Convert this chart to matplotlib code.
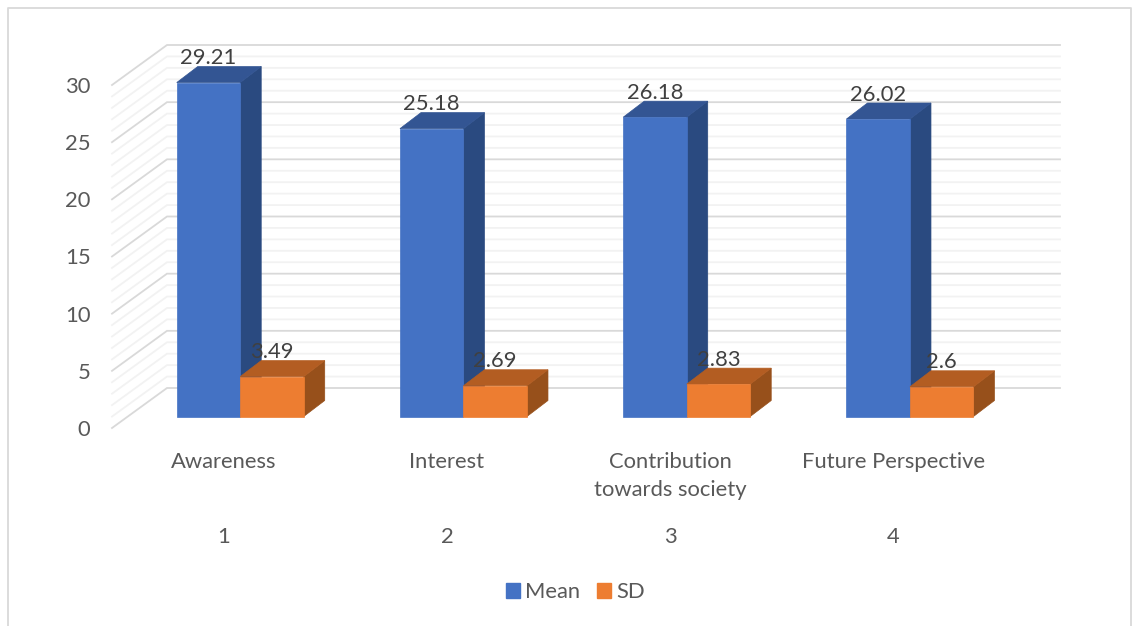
import matplotlib
matplotlib.use("Agg")
import matplotlib.pyplot as plt
from matplotlib.lines import Line2D
from matplotlib.patches import Patch

categories = ["Awareness", "Interest", "Contribution\ntowards society", "Future Perspective"]
category_numbers = ["1", "2", "3", "4"]
mean_values = [29.21, 25.18, 26.18, 26.02]
sd_values = [3.49, 2.69, 2.83, 2.6]
mean_labels = ["29.21", "25.18", "26.18", "26.02"]
sd_labels = ["3.49", "2.69", "2.83", "2.6"]
positions = [1, 2, 3, 4]

W, H = 1132, 626
FS = 15.8
plt.rcParams['font.family'] = ['Lato', 'DejaVu Sans']
fig = plt.figure(figsize=(W / 100, H / 100), dpi=100, facecolor='white')
L, R, T, B = 112, 1005, 85, 428
ax = fig.add_axes([L / W, (H - B) / H, (R - L) / W, (B - T) / H])
ax.set_xlim(0.5, 4.5)
ax.set_ylim(0, 30)
ax.patch.set_alpha(0)
for s in ax.spines.values():
    s.set_visible(False)

px_x = 4.0 / (R - L)      # category units per pixel
px_y = 30.0 / (B - T)     # value units per pixel
wall_dx, wall_dy = 55 * px_x, 40 * px_y
shift_x, shift_y = 16.6 * px_x, 11.5 * px_y
bar_w = 63.5 * px_x
depth_x, depth_y = 21 * px_x, 16 * px_y

# walls / gridlines
for v in range(0, 31):
    major = v % 5 == 0
    c = '#D9D9D9' if major else '#F2F2F2'
    ax.plot([0.5, 0.5 + wall_dx, 4.5 + wall_dx], [v, v + wall_dy, v + wall_dy],
            color=c, lw=1.3, clip_on=False, zorder=2 if major else 1, solid_joinstyle='miter')


def bar3d(x0, val, front, top, side):
    x1 = x0 + bar_w
    b = shift_y
    t = val + shift_y
    ax.fill([x1, x1 + depth_x, x1 + depth_x, x1], [b, b + depth_y, t + depth_y, t],
            color=side, lw=0.5, clip_on=False, zorder=3)
    ax.fill([x0, x0 + depth_x, x1 + depth_x, x1], [t, t + depth_y, t + depth_y, t],
            color=top, lw=0.5, clip_on=False, zorder=3)
    ax.fill([x0, x1, x1, x0], [b, b, t, t], color=front, lw=0.5, clip_on=False, zorder=3)


label_off = 24.5 * px_y
for p, m, s, ml, sl in zip(positions, mean_values, sd_values, mean_labels, sd_labels):
    mid = p + shift_x
    bar3d(mid - bar_w, m, '#4472C4', '#335593', '#2A4A80')
    bar3d(mid, s, '#ED7D31', '#B35D22', '#97501B')
    ax.text(mid - bar_w / 2, m + shift_y + label_off, ml, ha='center', va='center',
            fontsize=FS, color='#404040', zorder=5, clip_on=False)
    ax.text(mid + bar_w / 2, s + shift_y + label_off, sl, ha='center', va='center',
            fontsize=FS, color='#404040', zorder=5, clip_on=False)

ax.set_yticks(range(0, 31, 5))
ax.tick_params(axis='y', length=0, pad=15.5, labelsize=FS, labelcolor='#595959')

ax.xaxis.remove_overlapping_locs = False
ax.set_xticks(positions)
ax.set_xticklabels(categories, linespacing=1.55)
ax.set_xticks(positions, minor=True)
ax.set_xticklabels(category_numbers, minor=True)
ax.tick_params(axis='x', which='major', length=0, pad=17, labelsize=FS, labelcolor='#595959')
ax.tick_params(axis='x', which='minor', length=0, pad=71.5, labelsize=FS, labelcolor='#595959')

handles = [Patch(color='#4472C4', label='Mean'), Patch(color='#ED7D31', label='SD')]
leg = fig.legend(handles=handles, loc='center', bbox_to_anchor=(575.5 / W, (H - 592) / H), ncol=2,
                 frameon=False, fontsize=FS, labelcolor='#595959', handlelength=0.64,
                 handleheight=0.64, handletextpad=0.25, columnspacing=0.75, borderpad=0, borderaxespad=0)

frame = dict(color='#D9D9D9', lw=1.3, transform=fig.transFigure)
fig.add_artist(Line2D([8 / W, 8 / W, 1131 / W, 1131 / W],
                      [0, (H - 8) / H, (H - 8) / H, 0], **frame))

fig.savefig('out.png', dpi=100)
